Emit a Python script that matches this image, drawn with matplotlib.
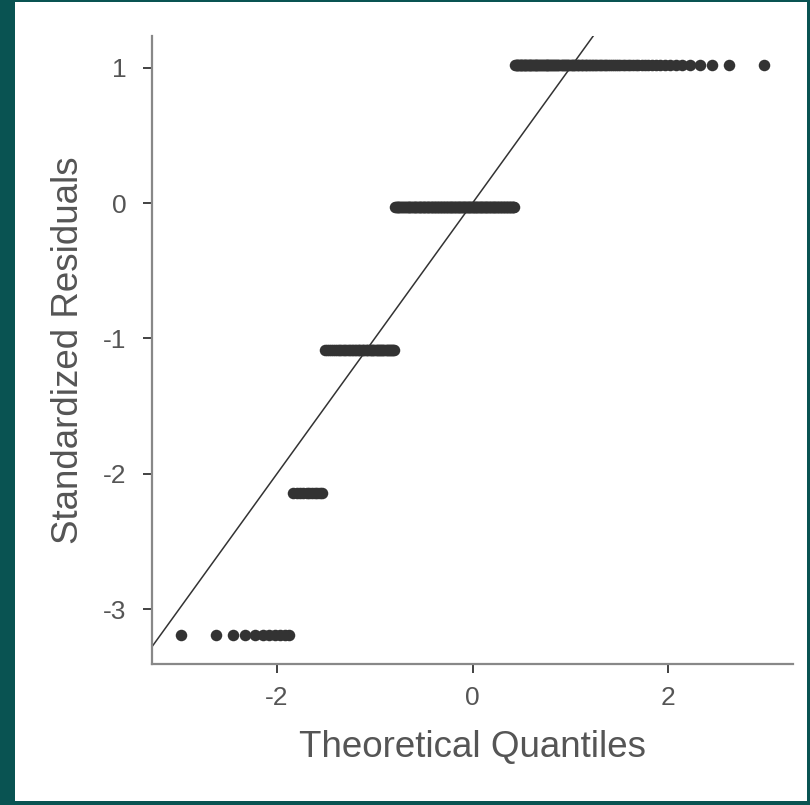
import numpy as np
import matplotlib
matplotlib.use("Agg")
import matplotlib.pyplot as plt
from matplotlib.patches import Rectangle
from statistics import NormalDist

plt.rcParams['font.family'] = ['Liberation Sans', 'DejaVu Sans']
plt.rcParams['axes.unicode_minus'] = False

# standardized residual levels and how many observations sit at each level
resid_levels = [-3.193, -2.139, -1.085, -0.031, 1.023]
resid_counts = [11, 11, 51, 157, 115]

x_ticks = [-2, 0, 2]
y_ticks = [-3, -2, -1, 0, 1]

# sample quantiles (sorted residuals) and theoretical normal quantiles
resid = np.repeat(resid_levels, resid_counts)
n = len(resid)
nd = NormalDist()
theo = np.array([nd.inv_cdf((i - 0.5) / n) for i in range(1, n + 1)])

fig = plt.figure(figsize=(8.1, 8.05), dpi=100)
fig.patch.set_facecolor('#095352')
W, H = 810., 805.
fig.patches.append(Rectangle((15 / W, 4 / H), 792 / W, 799 / H,
                             transform=fig.transFigure, facecolor='white',
                             edgecolor='none', zorder=-10))

ax = fig.add_axes([152 / W, 141 / H, 641 / W, 628 / H])
ax.set_facecolor('none')

ax.plot(theo, resid, 'o', color='#333333', markersize=8.3,
        markeredgewidth=0, zorder=3)

def expand(lo, hi, f=0.05):
    r = hi - lo
    return lo - f * r, hi + f * r

xlim = expand(theo.min(), theo.max())
ylim = expand(resid.min(), resid.max())
xx = np.array([xlim[0] - 1, xlim[1] + 1])
ax.plot(xx, xx, color='#333333', linewidth=1.1, zorder=2)
ax.set_xlim(xlim)
ax.set_ylim(ylim)

for s in ['top', 'right']:
    ax.spines[s].set_visible(False)
for s in ['left', 'bottom']:
    ax.spines[s].set_color('#888888')
    ax.spines[s].set_linewidth(1.6)

ax.set_xticks(x_ticks)
ax.set_yticks(y_ticks)
ax.tick_params(length=6.5, width=1.3, color='#333333', labelsize=19,
               labelcolor='#555555')
ax.tick_params(axis='y', pad=12)
ax.tick_params(axis='x', pad=9)

ax.set_xlabel('Theoretical Quantiles', fontsize=26.5, color='#555555', labelpad=15)
ax.set_ylabel('Standardized Residuals', fontsize=26.5, color='#555555', labelpad=12)

fig.savefig('out.png', dpi=100, facecolor=fig.get_facecolor())
